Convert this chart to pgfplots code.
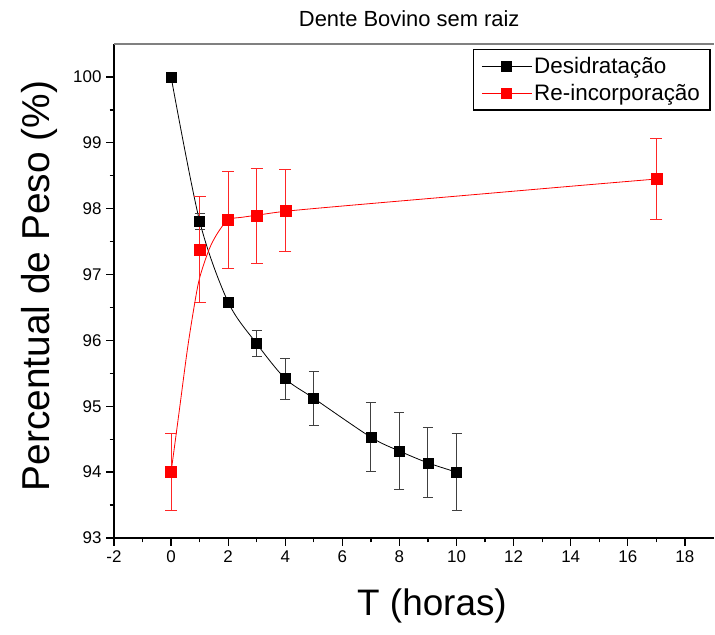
\documentclass[border=0pt]{standalone}
\usepackage{fontspec}
\setmainfont{Liberation Sans}
\usepackage{pgfplots}
\pgfplotsset{compat=1.18}
\newcommand{\tl}{\fontsize{17}{17}\selectfont}
\begin{document}
\begin{tikzpicture}[x=1bp,y=1bp]
\path[use as bounding box] (0,0) rectangle (715,635);
\begin{axis}[
  at={(114bp,97bp)}, anchor=south west,
  scale only axis, width=600bp, height=494bp,
  xmin=-2, xmax=19.02, ymin=93, ymax=100.5,
  axis lines*=left,
  axis line style={line width=1.3bp, black},
  tick align=outside,
  xtick={-2,0,2,4,6,8,10,12,14,16,18}, ytick={93,94,95,96,97,98,99,100},
  xticklabels={{\tl -2},{\tl 0},{\tl 2},{\tl 4},{\tl 6},{\tl 8},{\tl 10},{\tl 12},{\tl 14},{\tl 16},{\tl 18}},
  yticklabels={{\tl 93},{\tl 94},{\tl 95},{\tl 96},{\tl 97},{\tl 98},{\tl 99},{\tl 100}},
  minor x tick num=1, minor y tick num=1,
  major tick length=8bp, minor tick length=4.5bp,
  tick style={line width=1.3bp, black},
  xticklabel style={yshift=-1bp},
  yticklabel style={xshift=-1bp},
  xlabel={T (horas)}, ylabel={Percentual de Peso (\%)},
  label style={font=\fontsize{37}{37}\selectfont},
  xlabel style={at={(axis description cs:0.53,-0.137)},anchor=center},
  ylabel style={at={(axis description cs:-0.125,0.51)},anchor=center,font=\fontsize{39}{39}\selectfont},
  title={Dente Bovino sem raiz},
  title style={at={(axis description cs:0.492,1.04)},anchor=center,font=\fontsize{22}{22}\selectfont},
  legend style={at={(rel axis cs:0.598,0.99)}, anchor=north west, draw=black, line width=1.2bp, fill=white,
    font=\fontsize{22.5}{22.5}\selectfont, inner xsep=8bp, inner ysep=6bp, row sep=5bp},
  legend cell align=left,
  legend image code/.code={\draw[mark repeat=2,mark phase=2,#1] plot coordinates {(3bp,0bp) (28bp,0bp) (53bp,0bp)};},
  clip=false,
]
\draw[gray, line width=2bp] (rel axis cs:0,1) -- (rel axis cs:1,1);
\addplot[black, line width=0.8bp, smooth, mark=square*, mark size=5bp, mark options={solid, fill=black},
  error bars/.cd, y dir=both, y explicit,
  error bar style={gray!50!black, line width=1bp},
  error mark options={rotate=90, gray!50!black, mark size=5bp, line width=1bp}]
  coordinates {
  (0,100) +- (0,0)
  (1,97.81) +- (0,0.12)
  (2,96.58) +- (0,0.05)
  (3,95.95) +- (0,0.20)
  (4,95.42) +- (0,0.31)
  (5,95.12) +- (0,0.41)
  (7,94.53) +- (0,0.52)
  (8,94.32) +- (0,0.59)
  (9,94.14) +- (0,0.53)
  (10,94.00) +- (0,0.58)
  };
\addlegendentry{Desidratação}
\addplot[red, line width=0.8bp, smooth, mark=none,
  legend image post style={mark=square*, mark size=5bp, mark options={solid, fill=red}}]
  coordinates {
  (0,94.0) (0.28,94.91) (0.57,95.86) (0.81,96.52) (1.0,96.95) (1.33,97.38)
  (1.63,97.63) (2,97.83) (2.5,97.87) (3,97.9) (4,97.96) (6,98.04) (10,98.19) (14,98.34) (17,98.45)
  };
\addlegendentry{Re-incorporação}
\addplot[red, only marks, mark=square*, mark size=5.5bp, mark options={solid, fill=red}, forget plot,
  error bars/.cd, y dir=both, y explicit,
  error bar style={red!85!white, line width=1bp},
  error mark options={rotate=90, red!85!white, mark size=6bp, line width=1bp}]
  coordinates {
  (0,94.0) +- (0,0.58)
  (1,97.38) +- (0,0.80)
  (2,97.83) +- (0,0.74)
  (3,97.89) +- (0,0.72)
  (4,97.97) +- (0,0.62)
  (17,98.45) +- (0,0.61)
  };
\end{axis}
\end{tikzpicture}
\end{document}
